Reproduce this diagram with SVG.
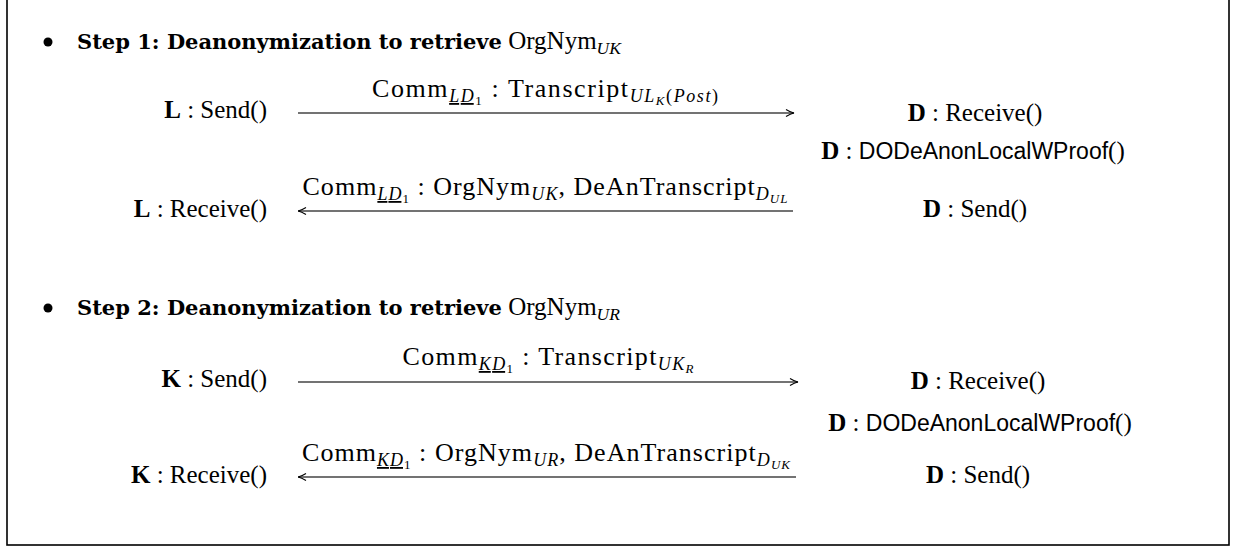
<svg xmlns="http://www.w3.org/2000/svg" width="1234" height="547" viewBox="0 0 1234 547">
  <style>
    text { font-family: "Liberation Serif", "Times New Roman", serif; font-size: 25px; fill: #000; }
    .hd { font-family: "DejaVu Serif", "Liberation Serif", serif; font-weight: bold; font-size: 21px; }
    .lbl { font-size: 26px; }
    .b { font-weight: bold; }
    .i { font-style: italic; }
    .s { font-size: 17.5px; }
    .ss { font-size: 12.5px; }
    .lbl .s { font-size: 18px; }
    .lbl .ss { font-size: 13px; }
    .sf { font-family: "Liberation Sans", Arial, sans-serif; font-size: 23px; }
    .u { text-decoration: underline; }
    .msg { fill: none; stroke: #444; stroke-width: 1.3; marker-end: url(#head); }
  </style>
  <defs>
    <marker id="head" viewBox="0 0 10 10" refX="9.5" refY="5" markerWidth="10" markerHeight="10" markerUnits="userSpaceOnUse" orient="auto">
      <path d="M1.5,1.5 Q6,4.3 9.5,5 Q6,5.7 1.5,8.5" fill="none" stroke="#000" stroke-width="1.1"/>
    </marker>
  </defs>

  <rect x="0" y="0" width="1234" height="547" fill="#fff"/>
  <!-- frame -->
  <rect x="7" y="-5" width="1222" height="550" fill="none" stroke="#000" stroke-width="1.6"/>

  <!-- step 1 -->
  <g id="step1-heading">
    <circle cx="48" cy="42" r="4.5"/>
    <text x="77" y="49"><tspan class="hd">Step 1: Deanonymization to retrieve</tspan> OrgNym<tspan dy="5" class="s i">UK</tspan></text>
  </g>
  <g id="l-send">
    <text x="267" y="118" text-anchor="end"><tspan class="b">L</tspan> : Send()</text>
  </g>
  <g id="d-receive-1">
    <text x="975" y="121" text-anchor="middle"><tspan class="b">D</tspan> : Receive()</text>
  </g>
  <g id="d-proof-1">
    <text x="973" y="159" text-anchor="middle"><tspan class="b">D</tspan> : <tspan class="sf">DODeAnonLocalWProof</tspan>()</text>
  </g>
  <g id="l-receive">
    <text x="267" y="217" text-anchor="end"><tspan class="b">L</tspan> : Receive()</text>
  </g>
  <g id="d-send-1">
    <text x="975" y="217" text-anchor="middle"><tspan class="b">D</tspan> : Send()</text>
  </g>

  <!-- step 2 -->
  <g id="step2-heading">
    <circle cx="48" cy="308" r="4.5"/>
    <text x="77" y="315"><tspan class="hd">Step 2: Deanonymization to retrieve</tspan> OrgNym<tspan dy="5" class="s i">UR</tspan></text>
  </g>
  <g id="k-send">
    <text x="267" y="387" text-anchor="end"><tspan class="b">K</tspan> : Send()</text>
  </g>
  <g id="d-receive-2">
    <text x="978" y="389" text-anchor="middle"><tspan class="b">D</tspan> : Receive()</text>
  </g>
  <g id="d-proof-2">
    <text x="980" y="431" text-anchor="middle"><tspan class="b">D</tspan> : <tspan class="sf">DODeAnonLocalWProof</tspan>()</text>
  </g>
  <g id="k-receive">
    <text x="267" y="483" text-anchor="end"><tspan class="b">K</tspan> : Receive()</text>
  </g>
  <g id="d-send-2">
    <text x="978" y="483" text-anchor="middle"><tspan class="b">D</tspan> : Send()</text>
  </g>

  <!-- messages -->
  <g id="connectors">
    <path class="msg" d="M298,113 H794"/>
    <path class="msg" d="M793,211 H298"/>
    <path class="msg" d="M298,382 H798"/>
    <path class="msg" d="M796,477 H298"/>
  </g>

  <g id="labels">
    <text class="lbl" x="545" y="97" text-anchor="middle" textLength="346" lengthAdjust="spacing">Comm<tspan dy="5" class="s i u">LD</tspan><tspan dy="3" class="ss">1</tspan><tspan dy="-8"> : Transcript</tspan><tspan dy="5" class="s i">UL</tspan><tspan dy="3" class="ss i">K</tspan><tspan dy="-3" class="s">(<tspan class="i">Post</tspan>)</tspan></text>
    <text class="lbl" x="545" y="195" text-anchor="middle" textLength="485" lengthAdjust="spacing">Comm<tspan dy="5" class="s i u">LD</tspan><tspan dy="3" class="ss">1</tspan><tspan dy="-8"> : OrgNym</tspan><tspan dy="5" class="s i">UK</tspan><tspan dy="-5">, DeAnTranscript</tspan><tspan dy="5" class="s i">D</tspan><tspan dy="3" class="ss i">UL</tspan></text>
    <text class="lbl" x="548" y="365" text-anchor="middle" textLength="291" lengthAdjust="spacing">Comm<tspan dy="5" class="s i u">KD</tspan><tspan dy="3" class="ss">1</tspan><tspan dy="-8"> : Transcript</tspan><tspan dy="5" class="s i">UK</tspan><tspan dy="3" class="ss i">R</tspan></text>
    <text class="lbl" x="546" y="461" text-anchor="middle" textLength="488" lengthAdjust="spacing">Comm<tspan dy="5" class="s i u">KD</tspan><tspan dy="3" class="ss">1</tspan><tspan dy="-8"> : OrgNym</tspan><tspan dy="5" class="s i">UR</tspan><tspan dy="-5">, DeAnTranscript</tspan><tspan dy="5" class="s i">D</tspan><tspan dy="3" class="ss i">UK</tspan></text>
  </g>
</svg>
